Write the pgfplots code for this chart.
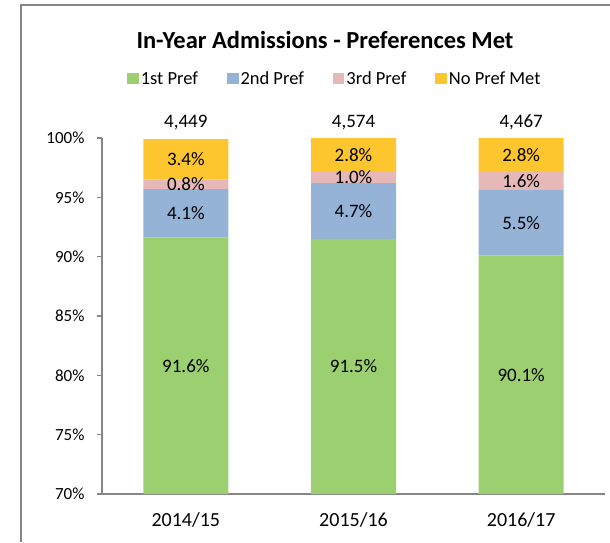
\documentclass[border=0pt]{standalone}
\usepackage{pgfplots}
\pgfplotsset{compat=1.18}
\usepackage{fontspec}
\setmainfont{Carlito}
\definecolor{cgreen}{RGB}{155,207,111}
\definecolor{cblue}{RGB}{149,179,215}
\definecolor{cpink}{RGB}{230,185,184}
\definecolor{cyellow}{RGB}{253,198,47}
\definecolor{axisgray}{RGB}{134,134,134}
\newcommand{\lbl}{\fontsize{19}{22}\selectfont}
\begin{document}
\begin{tikzpicture}
\useasboundingbox (0pt,0pt) rectangle (610pt,542pt);
\draw[color=axisgray, line width=2pt] (21pt,0pt) -- (21pt,537pt) -- (610pt,537pt);
\node[font=\bfseries\fontsize{24.5}{28}\selectfont] at (325pt,502pt) {In-Year Admissions - Preferences Met};
\begin{axis}[
  at={(102pt,48pt)}, anchor=south west,
  scale only axis, width=503pt, height=356pt,
  ybar stacked, bar width=85pt,
  xmin=-0.5, xmax=2.5, ymin=70, ymax=100,
  xtick={0,1,2}, xticklabels={2014/15,2015/16,2016/17},
  ytick={70,75,...,100},
  /pgf/number format/assume math mode=true,
  yticklabel={\pgfmathprintnumber{\tick}\%},
  axis x line*=bottom, axis y line*=left,
  axis line style={draw=axisgray, line width=1.5pt},
  every outer x axis line/.append style={-},
  every outer y axis line/.append style={-},
  xtick style={draw=none},
  ytick style={draw=axisgray, line width=1.2pt},
  tick align=outside, major tick length=5pt,
  yticklabel style={font=\fontsize{17}{20}\selectfont, xshift=-9pt},
  xticklabel style={font=\fontsize{20}{24}\selectfont, yshift=-10pt},
  clip=false,
  legend style={draw=none, fill=none, font=\fontsize{18.5}{21}\selectfont, legend columns=4,
    at={(0.463,1.166)}, anchor=center,
    /tikz/every even column/.append style={column sep=27pt}},
  legend image code/.code={\fill[#1,draw=none] (0pt,-5.5pt) rectangle (11.5pt,6pt);},
]
\addplot[fill=cgreen, draw=none] coordinates {(0,91.6) (1,91.5) (2,90.1)};
\addplot[fill=cblue, draw=none] coordinates {(0,4.1) (1,4.7) (2,5.5)};
\addplot[fill=cpink, draw=none] coordinates {(0,0.8) (1,1.0) (2,1.6)};
\addplot[fill=cyellow, draw=none] coordinates {(0,3.4) (1,2.8) (2,2.8)};
\legend{1st Pref,2nd Pref,3rd Pref,No Pref Met}
\end{axis}
\begin{axis}[
  at={(102pt,48pt)}, anchor=south west,
  scale only axis, width=503pt, height=356pt,
  xmin=-0.5, xmax=2.5, ymin=70, ymax=100,
  hide axis, clip=false,
]
\addplot[draw=none, mark=none, nodes near coords, point meta=explicit symbolic,
  every node near coord/.style={anchor=center, font=\lbl, text=black, inner sep=0pt}]
  table[meta=label] {
x y label
0 80.8 91.6\%
0 93.65 4.1\%
0 96.1 0.8\%
0 98.2 3.4\%
0 101.3 {4,449}
1 80.75 91.5\%
1 93.85 4.7\%
1 96.7 1.0\%
1 98.6 2.8\%
1 101.3 {4,574}
2 80.05 90.1\%
2 92.85 5.5\%
2 96.4 1.6\%
2 98.6 2.8\%
2 101.3 {4,467}
};
\end{axis}
\end{tikzpicture}
\end{document}
